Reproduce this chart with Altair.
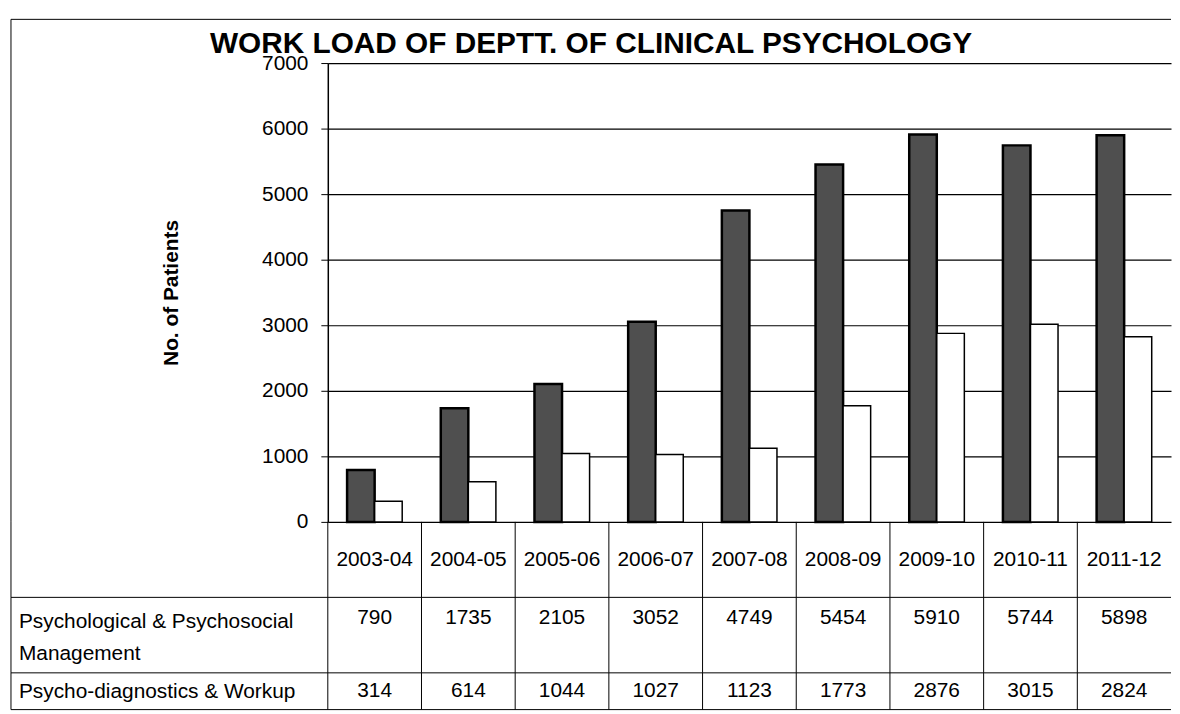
import altair as alt
import pandas as pd

years = ["2003-04", "2004-05", "2005-06", "2006-07", "2007-08",
         "2008-09", "2009-10", "2010-11", "2011-12"]
psych_mgmt = [790, 1735, 2105, 3052, 4749, 5454, 5910, 5744, 5898]
psych_diag = [314, 614, 1044, 1027, 1123, 1773, 2876, 3015, 2824]
series = ["Psychological & Psychosocial Management", "Psycho-diagnostics & Workup"]
row_labels = ["Psychological & Psychosocial\nManagement", "Psycho-diagnostics & Workup"]
y_ticks = [0, 1000, 2000, 3000, 4000, 5000, 6000, 7000]

FONT = "Liberation Sans"
W = 849
H = 462
LEFT = -319

df = pd.DataFrame({
    "year": years * 2,
    "series": [series[0]] * len(years) + [series[1]] * len(years),
    "value": psych_mgmt + psych_diag,
})
df_years = pd.DataFrame({"year": years, "mgmt": psych_mgmt, "diag": psych_diag})

xscale = alt.Scale(domain=years, paddingInner=0, paddingOuter=0)

bars = alt.Chart(df).mark_bar(stroke="black").encode(
    x=alt.X("year:N", scale=xscale, axis=None),
    xOffset=alt.XOffset("series:N", sort=series,
                        scale=alt.Scale(domain=series, paddingOuter=0.7, paddingInner=0)),
    y=alt.Y("value:Q", scale=alt.Scale(domain=[0, 7000], nice=False),
            axis=alt.Axis(values=y_ticks, format="d", title="No. of Patients", grid=True,
                          gridColor="black", gridWidth=1.2, gridOpacity=1,
                          domainColor="black", domainWidth=1.5,
                          tickColor="black", tickSize=7,
                          labelFont=FONT, labelFontSize=21, labelColor="black",
                          labelPadding=13,
                          titleFont=FONT, titleFontSize=21, titleFontWeight="bold",
                          titleColor="black", titleX=-157, titleY=H / 2,
                          titleBaseline="middle")),
    fill=alt.Fill("series:N", scale=alt.Scale(domain=series, range=["#4f4f4f", "#ffffff"]),
                  legend=None),
    strokeWidth=alt.StrokeWidth("series:N", scale=alt.Scale(domain=series, range=[2.5, 1.5]),
                                legend=None),
)

border_df = pd.DataFrame({"k": [0]})
top_border = alt.Chart(border_df).mark_rule(color="black", strokeWidth=1).encode(
    x=alt.value(LEFT), x2=alt.value(W), y=alt.value(-44))
left_border = alt.Chart(border_df).mark_rule(color="black", strokeWidth=1).encode(
    x=alt.value(LEFT), y=alt.value(-44), y2=alt.value(H))

bar_chart = alt.layer(top_border, left_border, bars).properties(width=W, height=H)


def row_chart(h, value_field, label, text_y, label_y, top_line, bottom_line, is_header=False):
    layers = []
    seps = alt.Chart(df_years).mark_rule(color="black", strokeWidth=1).encode(
        x=alt.X("year:N", scale=xscale, axis=None, bandPosition=0),
        y=alt.value(0), y2=alt.value(h))
    layers.append(seps)
    layers.append(alt.Chart(border_df).mark_rule(color="black", strokeWidth=1).encode(
        x=alt.value(LEFT), y=alt.value(0), y2=alt.value(h)))
    if top_line:
        layers.append(alt.Chart(border_df).mark_rule(color="black", strokeWidth=1).encode(
            x=alt.value(LEFT), x2=alt.value(W), y=alt.value(0)))
    if bottom_line:
        layers.append(alt.Chart(border_df).mark_rule(color="black", strokeWidth=1).encode(
            x=alt.value(LEFT), x2=alt.value(W), y=alt.value(h)))
    txt = alt.Chart(df_years).mark_text(font=FONT, fontSize=21, color="black",
                                        baseline="middle").encode(
        x=alt.X("year:N", scale=xscale, axis=None),
        y=alt.value(text_y),
        text=alt.Text(value_field + (":N" if is_header else ":Q")),
    )
    layers.append(txt)
    if label:
        lab = alt.Chart(pd.DataFrame({"label": [label]})).mark_text(
            font=FONT, fontSize=21, color="black", align="left", baseline="top",
            lineBreak="\n", lineHeight=32).encode(
            x=alt.value(LEFT + 8), y=alt.value(label_y), text="label:N")
        layers.append(lab)
    return alt.layer(*layers).properties(width=W, height=h)


row0 = row_chart(76, "year", None, 38, 0, False, False, is_header=True)
row1 = row_chart(76, "mgmt", row_labels[0], 21, 14, True, False)
row2 = row_chart(37, "diag", row_labels[1], 18, 8, True, True)

chart = alt.vconcat(bar_chart, row0, row1, row2, spacing=0, bounds="flush").properties(
    title=alt.Title("WORK LOAD OF DEPTT. OF CLINICAL PSYCHOLOGY", font=FONT, fontSize=30,
                    fontWeight="bold", color="black", anchor="middle", frame="bounds",
                    offset=-40),
    padding={"left": 2, "top": 8, "right": 0, "bottom": 0},
    background="white",
).configure_view(stroke=None)

chart.save("out.html", embed_options={"renderer": "svg", "actions": False})
